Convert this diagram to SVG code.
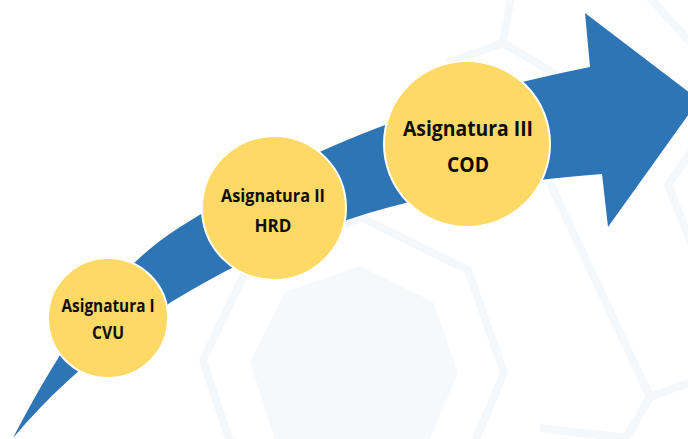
<svg xmlns="http://www.w3.org/2000/svg" width="688" height="439" viewBox="0 0 688 439">
  <style>
    .hexline { fill: none; stroke: #F4F8FA; stroke-width: 8; stroke-linejoin: miter; }
    .hexfill { fill: #F5F9FB; stroke: none; }
    .node circle { fill: #FED966; stroke: #FFFFFF; stroke-width: 2; }
    .node text { font-family: "Open Sans", Lato, "Liberation Sans", sans-serif; font-weight: 700; fill: #0D0D0D; text-anchor: middle; }
  </style>
  <rect x="0" y="0" width="688" height="439" fill="#FFFFFF"/>
  <g id="background">
    <polygon class="hexfill" points="360,266 433,302 458,373 427,446 350,480 276,442 250,362 285,292"/>
    <polygon class="hexline" points="362,218 468,270 504,373 459,479 348,528 240,473 203,360 253,256"/>
    <polyline class="hexline" points="550,183 650,397 688,383"/>
    <polyline class="hexline" points="650,397 622,445"/>
    <polyline class="hexline" points="540,428 627,438"/>
    <polyline class="hexline" points="692,150 668,185 692,245"/>
    <polyline class="hexline" points="511,-4 503,43 447,63"/>
    <polyline class="hexline" points="503,43 560,77"/>
    <polyline class="hexline" points="648,-4 690,42"/>
  </g>
  <g id="connectors">
    <path id="arrow" fill="#2E75B6" d="M13,438 C55,358 104,275 180,227 C304,148 446,95 590,67 L585,13 L699,100 L608,227 L602,174 C516,181 430,192 347,220 C223,262 105,330 13,438 Z"/>
  </g>
  <g id="node1" class="node">
    <circle cx="108" cy="318" r="60"/>
    <text x="108" y="312" font-size="17.5" textLength="93" lengthAdjust="spacingAndGlyphs">Asignatura I</text>
    <text x="108" y="339" font-size="17.5" textLength="32" lengthAdjust="spacingAndGlyphs">CVU</text>
  </g>
  <g id="node2" class="node">
    <circle cx="274" cy="208" r="72"/>
    <text x="273" y="202" font-size="18.5" textLength="104" lengthAdjust="spacingAndGlyphs">Asignatura II</text>
    <text x="273" y="232" font-size="18.5" textLength="37" lengthAdjust="spacingAndGlyphs">HRD</text>
  </g>
  <g id="node3" class="node">
    <circle cx="467" cy="144" r="83"/>
    <text x="468" y="136" font-size="21.5" textLength="130" lengthAdjust="spacingAndGlyphs">Asignatura III</text>
    <text x="468" y="172" font-size="21.5" textLength="42" lengthAdjust="spacingAndGlyphs">COD</text>
  </g>
</svg>
